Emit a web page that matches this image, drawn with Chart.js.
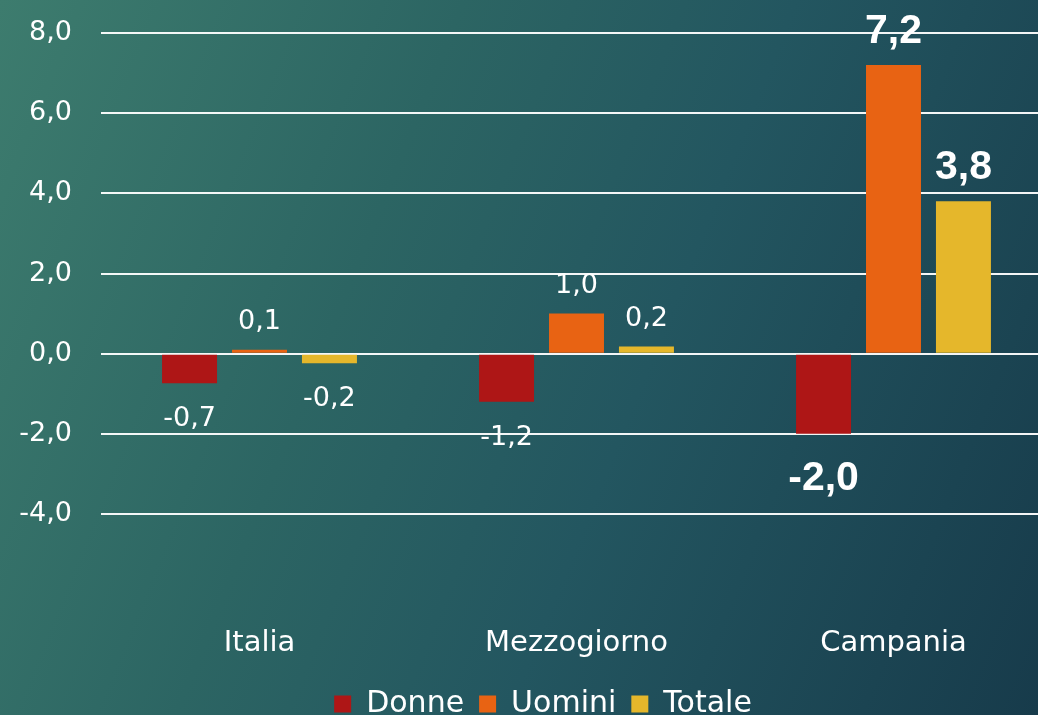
<!DOCTYPE html>
<html><head><meta charset="utf-8">
<script src="https://cdn.jsdelivr.net/npm/chart.js@4.4.1/dist/chart.umd.min.js"></script>
<style>
html,body{margin:0;padding:0;width:1038px;height:715px;overflow:hidden;}
body{background:linear-gradient(112deg,#3d7c6e 0%,#2c6563 35%,#235660 60%,#173b4b 100%);}
#wrap{position:absolute;left:0;top:0;width:1052px;height:729px;}
</style></head><body>
<div id="wrap"><canvas id="c"></canvas></div>
<script>
const categories = ['Italia', 'Mezzogiorno', 'Campania'];
const seriesNames = ['Donne', 'Uomini', 'Totale'];
const donne = [-0.74, -1.2, -2.0];
const uomini = [0.1, 1.0, 7.2];
const totale = [-0.24, 0.18, 3.8];
const yTicks = [-4, -2, 0, 2, 4, 6, 8];
const highlight = [false, false, true];

const colors = ['#AE1616', '#E86313', '#E5B72B'];
const FONT = 'DejaVu Sans';
const W = 'normal';
const fmt = v => v.toFixed(1).replace('.', ',');

const labelPlugin = {
  id: 'valueLabels',
  afterDatasetsDraw(chart) {
    const ctx = chart.ctx;
    ctx.save();
    ctx.fillStyle = '#ffffff';
    ctx.textAlign = 'center';
    ctx.textBaseline = 'alphabetic';
    chart.data.datasets.forEach((ds, di) => {
      const meta = chart.getDatasetMeta(di);
      meta.data.forEach((el, i) => {
        const v = ds.data[i];
        const big = highlight[i];
        let size, capH, off;
        if (big) {
          size = 41; capH = size * 0.716;
          ctx.font = 'bold ' + size + 'px "Liberation Sans", Arial, sans-serif';
          off = v >= 0 ? 37 : 41;
        } else {
          size = 27; capH = size * 0.729;
          ctx.font = W + ' ' + size + 'px "' + FONT + '"';
          off = v >= 0 ? 30 : 33;
        }
        const cy = v >= 0 ? el.y - off : el.y + off;
        ctx.fillText(fmt(v), el.x, cy + capH / 2);
      });
    });
    ctx.restore();
  }
};

const legendShift = {
  id: 'legendShift',
  afterLayout(chart) {
    if (chart.legend) { chart.legend.left += 17; chart.legend.right += 17; }
  }
};

new Chart(document.getElementById('c'), {
  type: 'bar',
  data: {
    labels: categories,
    datasets: [
      { label: seriesNames[0], data: donne, backgroundColor: colors[0] },
      { label: seriesNames[1], data: uomini, backgroundColor: colors[1] },
      { label: seriesNames[2], data: totale, backgroundColor: colors[2] }
    ]
  },
  options: {
    responsive: true,
    maintainAspectRatio: false,
    animation: false,
    layout: { padding: { top: 33, right: 0, left: 0, bottom: 0 } },
    datasets: { bar: { barPercentage: 0.786, categoryPercentage: 0.662 } },
    plugins: {
      tooltip: { enabled: false },
      legend: {
        position: 'bottom',
        labels: {
          color: '#ffffff',
          boxWidth: 17, boxHeight: 17, padding: 15,
          font: { family: FONT, size: 30, weight: W }
        }
      }
    },
    scales: {
      x: {
        grid: { display: false, drawTicks: false },
        border: { display: false },
        ticks: { color: '#ffffff', padding: 112, font: { family: FONT, size: 29, weight: W } },
        afterFit(s) { s.height = 160; s.paddingLeft = 0; s.paddingRight = 0; }
      },
      y: {
        min: -4, max: 8,
        grid: { color: 'rgba(255,255,255,0.95)', lineWidth: 2, drawTicks: false },
        border: { display: false },
        afterBuildTicks(s) { s.ticks = yTicks.map(v => ({ value: v })); },
        ticks: { color: '#ffffff', padding: 29, font: { family: FONT, size: 27, weight: W }, callback: v => fmt(v) },
        afterFit(s) { s.width = 101; s.paddingTop = 0; s.paddingBottom = 0; }
      }
    }
  },
  plugins: [labelPlugin, legendShift]
});
</script>
</body></html>
